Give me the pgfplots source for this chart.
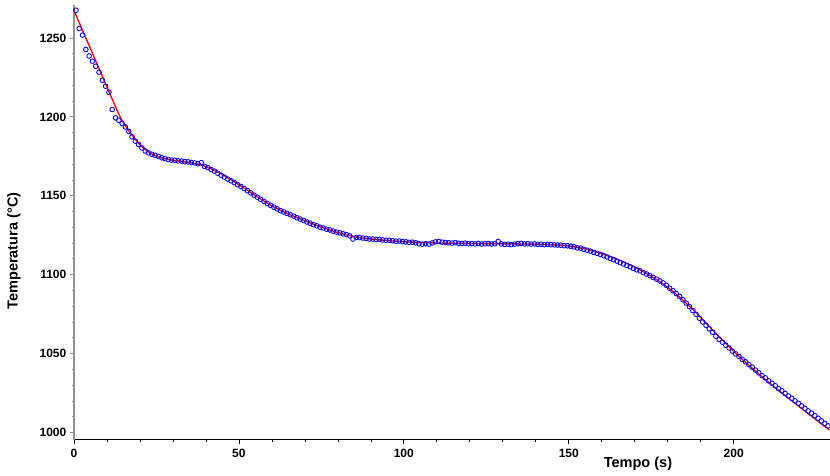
\documentclass[border=0pt]{standalone}
\usepackage{pgfplots}
\pgfplotsset{compat=1.18}
\usepackage{pgfplotstable}
\usepackage{fontspec}
\setmainfont{Liberation Sans}

\pgfplotstableread{
x y
0.6 1267.6
1.6 1256.0
2.6 1251.8
3.6 1242.7
4.6 1238.6
5.6 1235.3
6.6 1232.1
7.6 1228.3
8.6 1223.2
9.6 1219.4
10.6 1215.6
11.6 1204.7
12.6 1199.4
13.6 1197.9
14.6 1195.8
15.6 1193.6
16.6 1190.8
17.6 1187.4
18.6 1184.6
19.6 1182.5
20.6 1180.3
21.6 1178.4
22.6 1177.2
23.6 1176.3
24.6 1175.6
25.6 1175.0
26.6 1174.1
27.6 1173.5
28.6 1173.0
29.6 1172.6
30.6 1172.5
31.6 1172.1
32.6 1172.0
33.6 1171.6
34.6 1171.5
35.6 1171.1
36.6 1170.8
37.6 1170.3
38.6 1171.0
39.6 1168.6
40.6 1167.9
41.6 1166.6
42.6 1165.6
43.6 1164.3
44.6 1163.0
45.6 1161.8
46.6 1160.6
47.6 1159.5
48.6 1158.4
49.6 1157.0
50.6 1155.9
51.6 1154.6
52.6 1153.2
53.6 1151.8
54.6 1150.4
55.6 1149.1
56.6 1147.8
57.6 1146.4
58.6 1145.1
59.6 1143.9
60.6 1142.8
61.6 1141.7
62.6 1140.6
63.6 1139.7
64.6 1138.8
65.6 1138.0
66.6 1137.1
67.6 1136.1
68.6 1135.2
69.6 1134.4
70.6 1133.4
71.6 1132.6
72.6 1131.7
73.6 1131.0
74.6 1130.1
75.6 1129.6
76.6 1128.8
77.6 1128.3
78.6 1127.6
79.6 1127.0
80.6 1126.5
81.6 1125.9
82.6 1125.4
83.6 1124.6
84.6 1122.6
85.6 1123.6
86.6 1123.5
87.6 1123.2
88.6 1123.0
89.6 1122.6
90.6 1122.6
91.6 1122.3
92.6 1122.4
93.6 1122.0
94.6 1121.8
95.6 1121.8
96.6 1121.5
97.6 1121.2
98.6 1121.3
99.6 1121.0
100.6 1120.8
101.6 1120.5
102.6 1120.6
103.6 1120.2
104.6 1119.6
105.6 1119.3
106.6 1119.6
107.6 1119.4
108.6 1120.1
109.6 1120.8
110.6 1121.0
111.6 1120.6
112.6 1120.4
113.6 1120.2
114.6 1120.0
115.6 1120.3
116.6 1119.9
117.6 1119.8
118.6 1120.0
119.6 1119.6
120.6 1119.7
121.6 1119.5
122.6 1119.8
123.6 1119.4
124.6 1119.6
125.6 1119.7
126.6 1119.4
127.6 1119.6
128.6 1121.0
129.6 1119.5
130.6 1119.2
131.6 1119.3
132.6 1119.0
133.6 1119.4
134.6 1119.7
135.6 1119.8
136.6 1119.5
137.6 1119.6
138.6 1119.4
139.6 1119.5
140.6 1119.2
141.6 1119.3
142.6 1119.0
143.6 1119.2
144.6 1119.0
145.6 1118.9
146.6 1118.8
147.6 1118.7
148.6 1118.4
149.6 1118.3
150.6 1118.0
151.6 1117.6
152.6 1117.0
153.6 1116.8
154.6 1116.0
155.6 1115.5
156.6 1114.9
157.6 1114.1
158.6 1113.5
159.6 1112.8
160.6 1112.0
161.6 1111.2
162.6 1110.3
163.6 1109.5
164.6 1108.6
165.6 1107.7
166.6 1106.8
167.6 1105.8
168.6 1105.0
169.6 1104.0
170.6 1103.1
171.6 1102.4
172.6 1101.3
173.6 1100.4
174.6 1099.4
175.6 1098.3
176.6 1097.2
177.6 1096.0
178.6 1094.8
179.6 1093.2
180.6 1091.4
181.6 1089.8
182.6 1088.0
183.6 1086.2
184.6 1084.1
185.6 1082.0
186.6 1079.7
187.6 1077.3
188.6 1074.9
189.6 1072.4
190.6 1070.0
191.6 1067.9
192.6 1065.7
193.6 1063.5
194.6 1061.0
195.6 1059.0
196.6 1057.2
197.6 1055.3
198.6 1053.6
199.6 1051.6
200.6 1049.8
201.6 1048.2
202.6 1046.3
203.6 1044.8
204.6 1043.0
205.6 1041.4
206.6 1039.5
207.6 1037.8
208.6 1036.0
209.6 1034.6
210.6 1032.7
211.6 1031.2
212.6 1029.6
213.6 1027.8
214.6 1026.4
215.6 1024.7
216.6 1023.1
217.6 1021.6
218.6 1020.0
219.6 1018.5
220.6 1016.8
221.6 1015.3
222.6 1013.6
223.6 1012.2
224.6 1010.6
225.6 1009.0
226.6 1007.3
227.6 1005.8
228.6 1004.2
}\measured

\pgfplotstableread{
x y
0 1267.5
2 1257.8
4 1248.1
6 1238.4
8 1228.7
10 1219.0
12 1209.3
13 1204.5
14 1200.0
15 1196.3
16 1193.1
17 1190.1
18 1187.3
19 1184.7
20 1182.4
21 1180.4
22 1178.7
23 1177.3
24 1176.1
26 1174.4
28 1173.3
30 1172.6
32 1172.0
34 1171.4
36 1170.7
38 1169.8
40 1168.5
42 1166.7
44 1164.6
46 1162.2
48 1159.7
50 1157.0
52 1154.3
54 1151.5
56 1148.8
58 1146.1
60 1143.6
62 1141.4
64 1139.4
66 1137.6
68 1135.9
70 1134.2
72 1132.5
74 1130.9
76 1129.4
78 1128.0
80 1126.7
82 1125.6
84 1124.6
86 1123.8
88 1123.1
90 1122.6
95 1121.6
100 1120.9
105 1120.4
110 1120.1
115 1119.9
120 1119.8
125 1119.7
130 1119.6
135 1119.5
140 1119.3
145 1119.0
148 1118.6
151 1117.9
154 1116.8
157 1115.2
160 1113.3
163 1111.1
166 1108.6
169 1105.8
172 1102.6
175 1099.0
178 1095.0
181 1090.3
184 1085.0
187 1079.2
190 1072.8
193 1066.3
196 1059.8
199 1053.5
202 1047.5
205 1041.8
208 1036.4
211 1031.2
214 1026.1
217 1021.1
220 1016.2
223 1011.3
226 1006.4
229 1001.6
}\fitted

\begin{document}
\begin{tikzpicture}
\begin{axis}[
  scale only axis,
  width=567.4pt, height=326.25pt,
  xmin=0, xmax=229.2,
  ymin=995.4, ymax=1270.9,
  axis x line=bottom, axis y line=left,
  x axis line style={-, black, line width=0.9pt},
  y axis line style={-, gray!85, line width=1.3pt},
  xtick={0,50,...,200},
  ytick={1000,1050,...,1250},
  minor tick num=4,
  tick align=outside,
  major tick length=3pt,
  minor tick length=1.5pt,
  x tick style={black, line width=0.5pt},
  y tick style={gray!85, line width=0.6pt},
  /pgf/number format/assume math mode=true,
  /pgf/number format/1000 sep={},
  ticklabel style={font=\bfseries\fontsize{9}{10}\selectfont},
  xticklabel style={yshift=-0.5pt},
  yticklabel style={xshift=0.8pt},
  xlabel={Tempo (s)},
  ylabel={Temperatura (°C)},
  label style={font=\bfseries\fontsize{10.9}{12}\selectfont},
  x label style={at={(axis description cs:0.746,0)}, anchor=center, yshift=-18pt},
  y label style={at={(axis description cs:-0.0794,0.434)}, anchor=center},
  clip=true,
]
\addplot[only marks, mark=o, mark size=1.75pt, mark options={draw=blue, line width=0.65pt}] table[x=x,y=y] {\measured};
\addplot[red, line width=1pt, smooth, tension=0.3] table[x=x,y=y] {\fitted};
\end{axis}
\pgfresetboundingbox
\path[use as bounding box] (-55.5pt,-27pt) rectangle (567.4pt,330pt);
\end{tikzpicture}
\end{document}
